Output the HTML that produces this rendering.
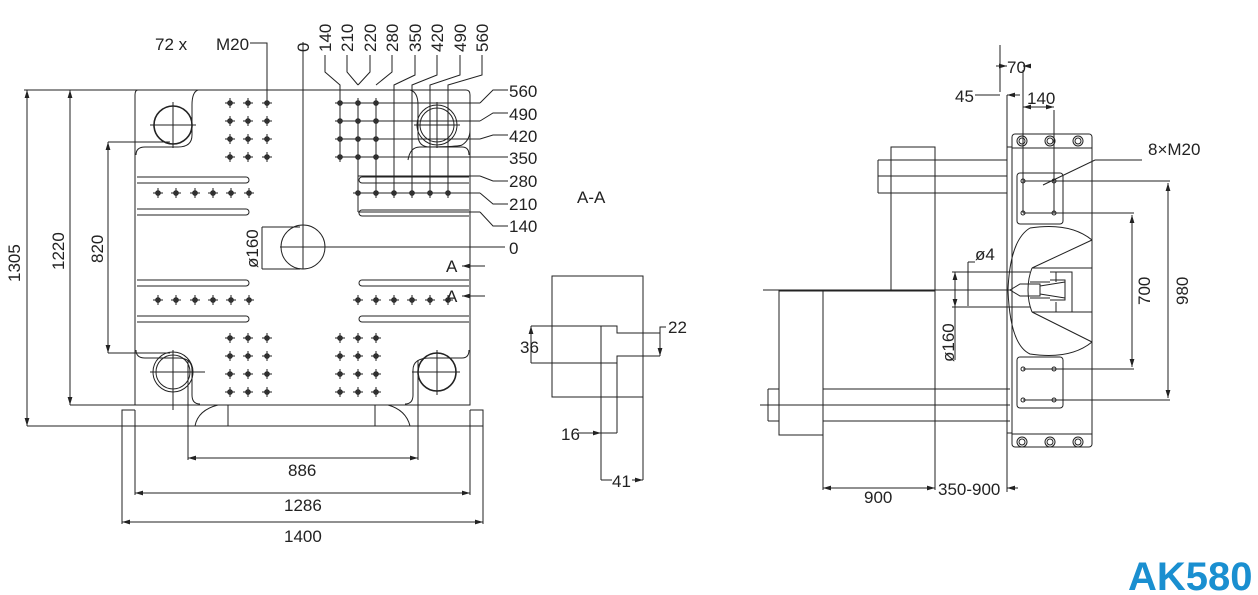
<!DOCTYPE html>
<html><head><meta charset="utf-8">
<style>
html,body{margin:0;padding:0;background:#fff;}
svg{display:block;}
text{font-family:"Liberation Sans Narrow","Liberation Sans",sans-serif;font-size:17px;fill:#222;}
.ak{font-family:"Liberation Sans",sans-serif;font-weight:bold;font-size:40px;fill:#1a8fd0;}
</style></head>
<body>
<svg id="s" width="1258" height="595" viewBox="0 0 1258 595" xmlns="http://www.w3.org/2000/svg">
<defs>
<marker id="ar" viewBox="0 0 10 6" refX="10" refY="3" markerWidth="8" markerHeight="5" orient="auto-start-reverse"><path d="M0,0L10,3L0,6z" fill="#222"/></marker>
</defs>
<g fill="none" stroke="#222" stroke-width="1">
<path d="M138,90 H466 Q470,90 470,95 V130 Q470,140 462,145 Q458,147 420,147 Q410,147 408,160"/>
<path d="M138,90 Q135,90 135,95 V405 H470 V95"/>
<path d="M198,90 Q192,92 192,105 V135 Q192,147 178,147 H145 Q136,147 136,155"/>
<path d="M410,90 Q418,92 418,105 V135 Q418,147 430,147 H462 Q469,147 469,155"/>
<path d="M136,350 Q136,358 145,358 H178 Q192,358 192,370 V395 Q192,404 200,404"/>
<path d="M469,350 Q469,358 462,358 H430 Q413,358 413,370 V395 Q413,404 405,404"/>
<path d="M122,426 V410 H135 M470,410 H483 V426 H122"/>
<path d="M228,405 V426 M195,426 Q198,410 218,405"/>
<path d="M375,405 V426 M410,426 Q406,410 388,405"/>
<path d="M137,177 H246 A3,3 0 0 1 246,183 H137"/>
<path d="M137,209 H246 A3,3 0 0 1 246,215 H137"/>
<path d="M137,280 H246 A3,3 0 0 1 246,286 H137"/>
<path d="M137,316 H246 A3,3 0 0 1 246,322 H137"/>
<path d="M469,177 H362 A3,3 0 0 0 362,183 H469"/>
<path d="M469,210 H362 A3,3 0 0 0 362,216 H469"/>
<path d="M469,280 H362 A3,3 0 0 0 362,286 H469"/>
<path d="M469,316 H362 A3,3 0 0 0 362,322 H469"/>
<circle cx="173" cy="125" r="19" stroke-width="1.6"/>
<circle cx="437" cy="125" r="20"/><circle cx="437" cy="125" r="17"/>
<circle cx="173" cy="372" r="20"/><circle cx="173" cy="372" r="17"/>
<circle cx="437" cy="372" r="19" stroke-width="1.6"/>
<path d="M150,125 H196 M173,102 V148 M414,125 H460 M437,102 V148 M150,372 H205 M173,350 V410 M412,372 H460 M437,350 V395"/>
<circle cx="303" cy="247" r="22"/>
<path d="M303,42 V269 M280,247 H505 M262,227 V269 M262,227 H300 M262,269 H300"/>
<path d="M24,90 H140 M68,90 H140 M108,142 H170 M108,353 H170 M27,426 H122 M70,405 H135"/>
<path d="M188,360 V460 M418,360 V460 M135,410 V495 M470,410 V495 M122,426 V524 M483,426 V524"/>
<line x1="188" y1="458" x2="418" y2="458" marker-start="url(#ar)" marker-end="url(#ar)"/>
<line x1="135" y1="493" x2="470" y2="493" marker-start="url(#ar)" marker-end="url(#ar)"/>
<line x1="122" y1="522" x2="483" y2="522" marker-start="url(#ar)" marker-end="url(#ar)"/>
<line x1="27" y1="426" x2="27" y2="90" marker-start="url(#ar)" marker-end="url(#ar)"/>
<line x1="70" y1="405" x2="70" y2="90" marker-start="url(#ar)" marker-end="url(#ar)"/>
<line x1="108" y1="353" x2="108" y2="142" marker-start="url(#ar)" marker-end="url(#ar)"/>
<path d="M250,43 H267 V100"/>
<path d="M340,103 H480 M340,121 H480 M340,139 H480 M340,157 H480 M358,176 H480 M355,193 H480 M358,212 H480 M340,103 V157 M358,103 V212 M376,103 V193"/>
<path d="M325,55 V72 L340,85 V103 M347,55 V72 L358,85 M370,55 V72 L358,85 M392,55 V72 L376,85 M415,55 V75 L394,85 V193 M437,55 V75 L412,85 V193 M460,55 V75 L430,85 V193 M482,55 V75 L448,85 V193"/>
<path d="M480,103 L493,90 H508 M480,121 L493,113 H508 M480,139 L493,135 H508 M480,157 H508 M480,176 L493,181 H508 M480,193 L493,204 H508 M480,212 L493,226 H508"/>
<line x1="485" y1="266" x2="462" y2="266" marker-end="url(#ar)"/>
<line x1="485" y1="296" x2="462" y2="296" marker-end="url(#ar)"/>
<rect x="552" y="276" width="91" height="121"/>
<path d="M531,326 H617 V333 H660 M660,356 H617 V363 H531 M601,326 V480 M617,363 V433 M643,397 V480 M531,326 V363"/>
<line x1="531" y1="340" x2="531" y2="326" marker-end="url(#ar)"/>
<line x1="660" y1="333" x2="660" y2="356" marker-end="url(#ar)"/>
<path d="M660,333 V327 H666"/>
<line x1="578" y1="433" x2="601" y2="433" marker-end="url(#ar)"/>
<path d="M601,433 H617"/>
<path d="M601,480 H612 M632,480 H643"/>
<line x1="632" y1="480" x2="643" y2="480" marker-end="url(#ar)"/>
<rect x="1012" y="134" width="80" height="313" rx="3"/>
<path d="M1012,148 H1092 M1012,434 H1092"/>
<path d="M1007,147 V433 H1012 M1007,147 H1012"/>
<path d="M1007,95 V492 M1000,45 V92"/>
<rect x="1017" y="173" width="46" height="51" rx="3"/>
<rect x="1017" y="357" width="46" height="51" rx="3"/>
<path d="M1030,228 Q1070,222 1092,240 M1008,290 Q1010,240 1030,228 M1008,290 Q1010,345 1030,354 Q1070,360 1092,342"/>
<path d="M1092,240 L1032,268 H1092 M1092,342 L1032,312 H1092"/>
<path d="M1032,268 Q1028,278 1028,290 Q1028,302 1032,312"/>
<path d="M1050,272 H1072 V312 H1050 M1056,272 V282 M1056,302 V312 M1050,280 H1065 V300 H1050"/>
<path d="M1030,282 H1050 M1030,298 H1050 M1010,290 L1020,284 H1040 V296 H1020Z M1040,286 L1065,282 M1040,294 L1065,298"/>
<path d="M763,290 H1010 M968,276 V306"/>
<path d="M952,272 H1030 M952,307 H1030"/>
<line x1="955" y1="272" x2="955" y2="307" marker-start="url(#ar)" marker-end="url(#ar)"/>
<path d="M955,307 V360"/>
<path d="M968,262 V290 M968,262 H975"/>
<rect x="779" y="291" width="44" height="144"/>
<path d="M823,291 V490 M935,147 V490 M823,291 H935"/>
<rect x="891" y="147" width="44" height="144"/>
<path d="M878,160 H1007 M878,193 H1007 M878,160 V193 M878,176 H1007"/>
<path d="M768,389 H779 M768,421 H779 M768,389 V421 M823,389 H1010 M823,421 H1010 M760,405 H1010 M1007,385 V425"/>
<line x1="823" y1="488" x2="935" y2="488" marker-start="url(#ar)" marker-end="url(#ar)"/>
<line x1="1018" y1="488" x2="1007" y2="488" marker-end="url(#ar)"/>
<path d="M1023,181 H1170 M1023,213 H1134 M1023,369 H1134 M1023,400 H1170 M1023,181 V213 M1054,181 V213"/>
<line x1="1168" y1="183" x2="1168" y2="398" marker-start="url(#ar)" marker-end="url(#ar)"/>
<line x1="1132" y1="215" x2="1132" y2="367" marker-start="url(#ar)" marker-end="url(#ar)"/>
<path d="M1043,185 L1095,160 H1142"/>
<path d="M1023,70 V181 M1054,110 V181"/>
<line x1="1023" y1="107" x2="1054" y2="107" marker-start="url(#ar)" marker-end="url(#ar)"/>
<line x1="996" y1="66" x2="1007" y2="66" marker-end="url(#ar)"/>
<line x1="1030" y1="66" x2="1023" y2="66" marker-end="url(#ar)"/>
<path d="M975,95 H1000"/>
<line x1="1020" y1="95" x2="1007" y2="95" marker-end="url(#ar)"/>
</g>
<g id="holes" stroke="#222" stroke-width="1" fill="#555"></g>
<g fill="none" stroke="#222" stroke-width="1">
<circle cx="1022" cy="141" r="5"/><circle cx="1022" cy="141" r="3"/>
<circle cx="1050" cy="141" r="5"/><circle cx="1050" cy="141" r="3"/>
<circle cx="1078" cy="141" r="5"/><circle cx="1078" cy="141" r="3"/>
<circle cx="1022" cy="442" r="5"/><circle cx="1022" cy="442" r="3"/>
<circle cx="1050" cy="442" r="5"/><circle cx="1050" cy="442" r="3"/>
<circle cx="1078" cy="442" r="5"/><circle cx="1078" cy="442" r="3"/>
<circle cx="1023" cy="181" r="2"/><circle cx="1054" cy="181" r="2"/>
<circle cx="1023" cy="213" r="2"/><circle cx="1054" cy="213" r="2"/>
<circle cx="1023" cy="369" r="2"/><circle cx="1054" cy="369" r="2"/>
<circle cx="1023" cy="400" r="2"/><circle cx="1054" cy="400" r="2"/>
</g>
<text x="155" y="50">72 x</text>
<text x="216" y="50">M20</text>
<text transform="translate(309,52) rotate(-90)">0</text>
<text transform="translate(331,52) rotate(-90)">140</text>
<text transform="translate(353,52) rotate(-90)">210</text>
<text transform="translate(376,52) rotate(-90)">220</text>
<text transform="translate(398,52) rotate(-90)">280</text>
<text transform="translate(421,52) rotate(-90)">350</text>
<text transform="translate(443,52) rotate(-90)">420</text>
<text transform="translate(466,52) rotate(-90)">490</text>
<text transform="translate(488,52) rotate(-90)">560</text>
<text x="509" y="97">560</text>
<text x="509" y="120">490</text>
<text x="509" y="142">420</text>
<text x="509" y="164">350</text>
<text x="509" y="187">280</text>
<text x="509" y="210">210</text>
<text x="509" y="232">140</text>
<text x="509" y="254">0</text>
<text transform="translate(258,268) rotate(-90)">ø160</text>
<text transform="translate(20,282) rotate(-90)">1305</text>
<text transform="translate(64,270) rotate(-90)">1220</text>
<text transform="translate(103,263) rotate(-90)">820</text>
<text x="288" y="476">886</text>
<text x="284" y="511">1286</text>
<text x="284" y="542">1400</text>
<text x="446" y="272">A</text>
<text x="446" y="302">A</text>
<text x="577" y="203">A-A</text>
<text x="520" y="353">36</text>
<text x="668" y="333">22</text>
<text x="561" y="440">16</text>
<text x="612" y="487">41</text>
<text x="1007" y="73">70</text>
<text x="955" y="102">45</text>
<text x="1027" y="104">140</text>
<text x="1148" y="155">8×M20</text>
<text x="975" y="260">ø4</text>
<text transform="translate(954,362) rotate(-90)">ø160</text>
<text transform="translate(1150,305) rotate(-90)">700</text>
<text transform="translate(1188,305) rotate(-90)">980</text>
<text x="864" y="503">900</text>
<text x="938" y="495">350-900</text>
<text class="ak" x="1128" y="590">AK580</text>
</svg>
<script>
var g=document.getElementById('holes'),ns='http://www.w3.org/2000/svg';
function h(x,y){var c=document.createElementNS(ns,'circle');c.setAttribute('cx',x);c.setAttribute('cy',y);c.setAttribute('r',2.3);g.appendChild(c);
var p=document.createElementNS(ns,'path');p.setAttribute('d','M'+(x-5)+','+y+'H'+(x+5)+'M'+x+','+(y-5)+'V'+(y+5));p.setAttribute('fill','none');g.appendChild(p);}
[230,248,267].forEach(function(x){[103,121,139,157,338,356,374,392].forEach(function(y){h(x,y);});});
[340,358,376].forEach(function(x){[103,121,139,157,338,356,374,392].forEach(function(y){h(x,y);});});
[158,176,195,213,231,249].forEach(function(x){h(x,193);h(x,300);});
[358,376,394,412,430,448].forEach(function(x){h(x,193);h(x,300);});
</script>
</body></html>
